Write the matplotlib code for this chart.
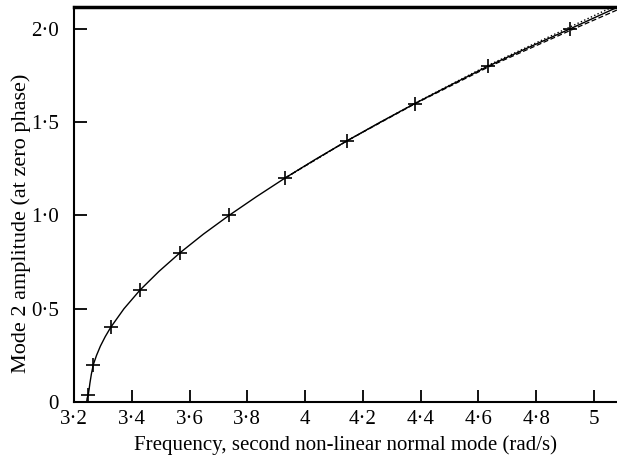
import numpy as np
import matplotlib
matplotlib.use("Agg")
from matplotlib import pyplot as plt
from matplotlib.ticker import FuncFormatter

# crosses (computed points)
cross_freq = [3.2495, 3.2668, 3.327, 3.4285, 3.567, 3.7365, 3.930, 4.145, 4.380, 4.633, 4.917]
cross_amp = [0.04, 0.2, 0.4, 0.6, 0.8, 1.0, 1.2, 1.4, 1.6, 1.8, 2.0]

# solid curve
solid_amp = [0.0, 0.02, 0.04, 0.07, 0.1, 0.15, 0.2, 0.25, 0.3, 0.35, 0.4, 0.5, 0.6, 0.7,
             0.8, 0.9, 1.0, 1.1, 1.2, 1.3, 1.4, 1.5, 1.6, 1.7, 1.8, 1.9, 2.0, 2.1, 2.2]
solid_freq = [3.244, 3.2455, 3.2495, 3.2525, 3.255, 3.2602, 3.2668, 3.278, 3.2915, 3.308, 3.327,
              3.373, 3.4285, 3.494, 3.567, 3.648, 3.7365, 3.831, 3.930, 4.035, 4.145,
              4.26, 4.380, 4.505, 4.633, 4.773, 4.917, 5.058, 5.20]

# dotted and dashed curves (differ from solid only at high amplitude)
dot_amp = [1.2, 1.4, 1.6, 1.8, 2.0, 2.1, 2.2]
dot_freq = [3.930, 4.145, 4.378, 4.627, 4.903, 5.040, 5.178]
dash_amp = [1.2, 1.4, 1.6, 1.8, 2.0, 2.1, 2.2]
dash_freq = [3.930, 4.145, 4.382, 4.640, 4.930, 5.078, 5.225]

xticks = [3.2, 3.4, 3.6, 3.8, 4.0, 4.2, 4.4, 4.6, 4.8, 5.0]
yticks = [0, 0.5, 1.0, 1.5, 2.0]

plt.rcParams['font.family'] = ['Liberation Serif', 'DejaVu Serif']

fig = plt.figure(figsize=(6.17, 4.61), dpi=100)
ax = fig.add_axes([74/617, 1 - 402/461, 1 - 74/617, (402 - 7.3)/461])

ax.plot(solid_freq, solid_amp, '-', color='black', lw=1.0)
ax.plot(dot_freq, dot_amp, ':', color='black', lw=1.0)
ax.plot(dash_freq, dash_amp, '--', color='black', lw=0.9, dashes=(4, 2))
ax.plot(cross_freq, cross_amp, '+', color='black', ms=10, mew=1.2, ls='none')

ax.set_xlim(3.2, 5.08)
ax.set_ylim(0, 2.116)
ax.set_xticks(xticks)
ax.set_yticks(yticks)

def fmt(v, pos):
    if abs(v) < 1e-9:
        return '0'
    if abs(v - round(v)) < 1e-9 and v > 2.5:
        return '%d' % round(v)
    return ('%.1f' % v).replace('.', '\u00b7')

ax.xaxis.set_major_formatter(FuncFormatter(fmt))
ax.yaxis.set_major_formatter(FuncFormatter(fmt))
ax.tick_params(direction='in', length=9, width=1.3, labelsize=15)
ax.tick_params(axis='x', pad=6)
ax.tick_params(axis='y', pad=11)
ax.spines['right'].set_visible(False)
for s in ['left', 'bottom']:
    ax.spines[s].set_linewidth(1.5)
ax.spines['top'].set_linewidth(2.5)

ax.set_xlabel('Frequency, second non-linear normal mode (rad/s)', fontsize=15)
ax.set_ylabel('Mode 2 amplitude (at zero phase)', fontsize=16)
ax.xaxis.set_label_coords(0.5, -0.085)
ax.yaxis.set_label_coords(-0.08, 0.453)

fig.savefig('out.png', dpi=100)
